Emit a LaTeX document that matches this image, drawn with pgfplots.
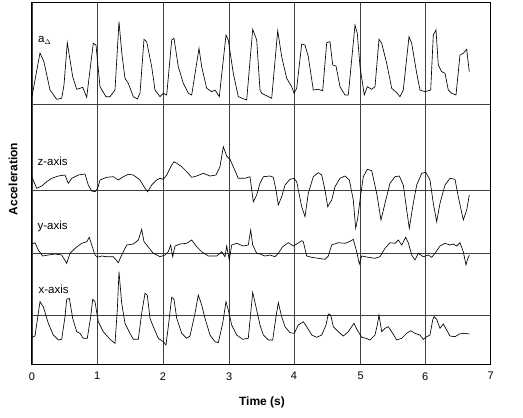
\documentclass[border=0pt]{standalone}
\usepackage{pgfplots}
\pgfplotsset{compat=1.18}
\usepackage{fontspec}
\setmainfont{Liberation Sans}
\begin{document}
\begin{tikzpicture}[x=1pt,y=1pt]
\useasboundingbox (-261.35,-234.5) rectangle (261.65,183.5);
\begin{axis}[
  at={(0,0)}, anchor=center,
  scale only axis, width=458.7pt, height=361.6pt,
  xmin=32, xmax=490.7, ymin=2.7, ymax=364.3, y dir=reverse,
  xtick={32,97.3,163,229.3,294,360.7,425.3,490.7},
  xticklabels={0,1,2,3,4,5,6,7},
  ytick={104.7,190.7,253.3,315.7}, yticklabels={},
  major tick length=0pt,
  xmajorgrids, ymajorgrids,
  grid style={black!75, line width=0.7pt},
  axis line style={black, line width=1pt},
  tick label style={font=\fontsize{11}{13}\selectfont},
  /pgf/number format/assume math mode=true,
  xticklabel style={yshift=-4.5pt},
  clip=false,
]
% a_Delta
\addplot[black, line width=0.65pt] coordinates {
(32,96.7)(35,80)(40,53)(44,62)(50,90)(56.7,99.3)(61.7,98.3)(64,85)(67.3,42.7)(72.7,76.7)(76.7,89.3)(80,88.3)(82.7,87.3)(86.7,97.3)(90,70)(93.3,43.3)(96,45)(100,86.7)(106,96.7)(110,96.7)(115,90)(119,21.7)(122,55)(125,78.3)(128.3,83.3)(133.3,96.7)(137.3,99)(140,93.3)(144,39.3)(146.7,41.7)(151.7,66.7)(155,90)(160,96.7)(163.3,93.3)(166.7,95)(171.7,40)(174,38.3)(178.3,66.7)(183.3,83.3)(188.3,93.3)(191.7,95)(199,48.3)(201.7,66.7)(206.7,88.3)(211.7,91.7)(215,90)(219.3,96.7)(226,35)(228.3,40)(233.3,73.3)(238.3,96.7)(246.7,100)(252.7,29.3)(256.7,40)(260,90)(261.7,93.3)(271.7,98.3)(277.7,30.7)(281.7,56.7)(284,66.7)(286.7,78.3)(291.7,86.7)(294,93.3)(296.7,88.3)(301.7,44)(305,45)(308.3,56.7)(313.3,90)(318.3,89.3)(322.7,90.7)(326.7,42.7)(330,41.7)(332.7,65)(336,66)(340,86.7)(345,95)(348.3,95)(355,25)(357.3,33.3)(360,66.7)(364.3,95)(367.3,86.7)(371.7,89.3)(375,86.7)(379,39.3)(381.7,43.3)(386.7,63.3)(391.7,88.3)(396.7,92.7)(400,96.7)(403.3,90)(409,36.7)(411.7,43.3)(416.7,73.3)(420,90)(425,91.7)(430.7,90)(433.3,35)(436,30)(438.3,65)(441.7,71.7)(445,73.3)(448.3,90)(451.7,93.3)(456,95)(460,55)(463.3,53.3)(466.7,49.3)(469.3,71.7)
};
% z-axis
\addplot[black, line width=0.65pt] coordinates {
(32,177.3)(36.7,188.3)(41.7,186)(46.7,181.7)(51.7,178.3)(58.3,176)(65,175)(68.3,183.3)(71.7,178.3)(78.3,175)(85,174)(88.3,185)(91.7,191)(95,191.7)(97.7,188.3)(100,180)(106.7,177.3)(113.3,176.7)(118.3,180)(123.3,176.7)(128.3,174.3)(133.3,175)(140,180)(145,188.3)(147.7,191.7)(151.7,185)(156.7,180)(160,178.3)(163.3,179.3)(166.7,175)(171.7,165)(174,161.7)(176.7,163.3)(181.7,166.7)(186.7,171.7)(191.7,177.3)(196.7,176)(203.3,173.3)(210,176)(216,175)(220,166.7)(223.3,146.7)(226.7,156)(230,159.3)(233.3,166.7)(238.3,178.3)(245,178.3)(250,176.7)(253.3,201.7)(256.7,195)(260,183.3)(263.3,176.7)(270,176)(273.3,177.3)(276,190)(278.3,205)(281.7,196.7)(285,185)(290,179.3)(294,178.3)(296.7,181.7)(301.7,206.7)(305,216.7)(308.3,193.3)(313.3,176.7)(318.3,172.7)(321.7,175)(325,190)(327.7,206.7)(331.7,200)(335,186.7)(340,178.3)(345,176)(349.3,180)(353.3,200)(355.7,228.3)(357.7,218.3)(360,200)(363.3,176.7)(367.3,169.3)(371.7,170.7)(376.7,193.3)(381,220)(385,203.3)(390,183.3)(395,176.7)(399.3,176)(403.3,185)(406.7,210)(409.3,228.3)(413.3,203.3)(416.7,185)(421.7,173.3)(425.7,172.3)(430,180)(433.3,203.3)(436.7,221.7)(440,203.3)(445,185)(450,178.3)(455,179.3)(458.3,196.7)(463.3,220)(466.7,210)(469.3,195)
};
% y-axis
\addplot[black, line width=0.65pt] coordinates {
(32,244)(35,242.7)(38.3,250)(42.7,256)(48.3,255)(55,254)(61.7,255)(66.7,263.3)(70,253.3)(75,248.3)(81.7,243.3)(86.7,241.7)(89.3,237.3)(91.7,245)(95,255)(97.3,257.3)(101.7,256)(106.7,256.7)(113.3,256.7)(118.3,262.7)(121.7,255)(126.7,245)(133.3,244)(138.3,240)(141.7,229.3)(144,241.7)(146.7,245)(153.3,253.3)(160,256.7)(165,255)(168.3,251.7)(170.7,245)(172.7,256.7)(175,246)(180,244)(186.7,243.3)(191.7,240)(196.7,246.7)(201.7,251.7)(208.3,256)(216.7,256)(221.7,251.7)(225,256.7)(226.7,246)(229.3,260)(231.7,245)(236.7,243.3)(243.3,246)(248.3,245)(250.7,230)(252.7,245)(256.7,253.3)(260,254)(265,256)(270,255)(275,256.7)(278.3,253.3)(282.7,246.7)(288.3,242.7)(293.3,246)(296.7,244)(301.7,240.7)(303.3,241.7)(306.7,256)(311.7,257.3)(318.3,258.3)(325,259.3)(328.3,256)(331.7,245)(338.3,242.7)(345,243.3)(349.3,241.7)(353.3,239.3)(356.7,251.7)(359.3,264)(361.7,256)(368.3,257.3)(375,258.3)(380,256.7)(385,248.3)(390,242.7)(395,243.3)(398.3,240)(401.7,245)(405.7,237.3)(408.3,242.7)(411.7,255)(415,260)(418.3,253.3)(423.3,256.7)(428.3,255)(431.7,257.3)(435,253.3)(440,246)(445,243.3)(450,245)(453.3,244)(456.7,246)(460,242.7)(463.3,251.7)(466,265)(467.3,260)(469.3,255)
};
% x-axis
\addplot[black, line width=0.65pt] coordinates {
(32,337.3)(35,336)(37.3,320)(40,301.7)(43.3,306.7)(48.3,323.3)(53.3,335)(58.3,340)(61.7,339.3)(65,316.7)(66.7,299.3)(69.3,298.3)(72.7,318.3)(76.7,331.7)(80,333.3)(83.3,338.3)(87.3,338.3)(90.7,316.7)(92.7,299.3)(95,301.7)(98.3,321.7)(103.3,331.7)(110,339.3)(115,343.3)(117.3,310)(119,271.7)(121.7,303.3)(125,323.3)(130,333.3)(133.3,339.3)(138.3,339.3)(141.7,313.3)(145,293.3)(147.3,295)(150,318.3)(153.3,326.7)(158.3,338.3)(163.3,341.7)(166,345)(168.3,326.7)(171.7,297.3)(174,299.3)(176.7,318.3)(181.7,333.3)(186.7,338.3)(190,336)(195,313.3)(198.3,295)(201.7,305)(205,318.3)(210,335)(215,341.7)(218.3,342.7)(222.7,323.3)(226,301.7)(228.3,310)(231.7,325)(236.7,335)(242.7,339.3)(248.3,338.3)(250.7,313.3)(252.7,292.3)(256.7,310)(260,325)(263.3,335)(268.3,340)(272.7,340)(276,316.7)(278.3,302.7)(281.7,316.7)(285,326.7)(290,332.7)(294.3,333.3)(298.3,325)(303.3,321.7)(306.7,326.7)(311.7,335)(316.7,337.3)(321.7,335)(326,325)(328.3,314)(330.7,315)(333.3,326.7)(338.3,331.7)(343.3,336)(348.3,331.7)(354,323.3)(357.3,330)(361.7,337.3)(366,338.3)(370,340)(375,335)(377.3,325)(379,315)(381.7,331.7)(385,328.3)(388.3,326.7)(391.7,331.7)(396.7,340)(401.7,338.3)(406.7,333.3)(410.7,330.7)(415,333.3)(420,335)(423.3,339.3)(426.7,336.7)(430,335)(432.7,320)(434,316.7)(436.7,319.3)(440,328.3)(443.3,324)(446.7,330)(450,336)(455,336.7)(459.3,334)(464,333.3)(469.3,334)
};
\node[anchor=west, font=\fontsize{11.5}{13}\selectfont] at (axis cs:34.5,40) {a\raisebox{-0.35ex}{\fontsize{7}{8}\selectfont$\Delta$}};
\node[anchor=west, font=\fontsize{11.5}{13}\selectfont] at (axis cs:34,161.7) {z-axis};
\node[anchor=west, font=\fontsize{11.5}{13}\selectfont] at (axis cs:34,226.7) {y-axis};
\node[anchor=west, font=\fontsize{11.5}{13}\selectfont] at (axis cs:35,289) {x-axis};
\end{axis}
\node[font=\bfseries\fontsize{12}{14}\selectfont] at (0.65,-219.2) {Time (s)};
\node[font=\bfseries\fontsize{12}{14}\selectfont, rotate=90] at (-248.35,4.5) {Acceleration};
\end{tikzpicture}
\end{document}
